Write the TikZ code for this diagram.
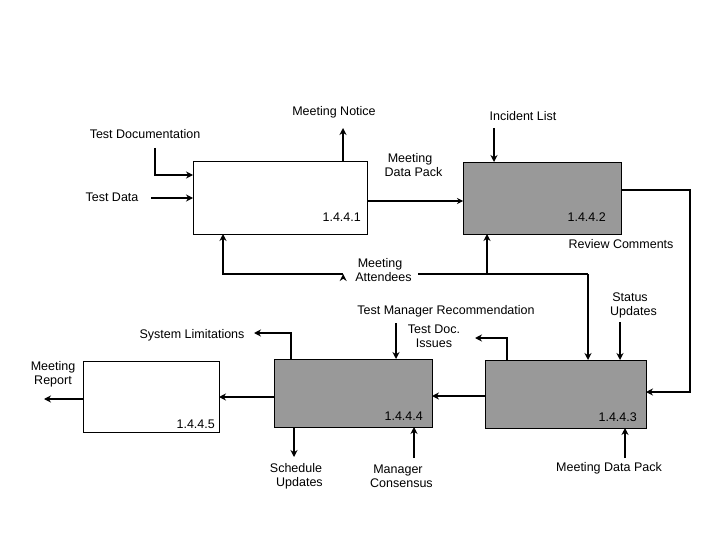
\documentclass[tikz,border=0pt]{standalone}
\usepackage{fontspec}
\setmainfont{Liberation Sans}
\usetikzlibrary{arrows.meta}
\begin{document}
\begin{tikzpicture}[x=1pt,y=-1pt,
  every node/.style={font=\fontsize{12.5}{14}\selectfont,inner sep=0pt,align=center},
  box/.style={draw,line width=0.8pt,fill=white},
  hbox/.style={draw,line width=0.8pt,fill=black!40},
  fl/.style={line width=2.6pt,-{Stealth[length=7pt,width=7pt]}},
  ln/.style={line width=2.6pt},
  lbl/.style={}]
\useasboundingbox (0,0) rectangle (720,540);
% boxes
\draw[box] (193,161) rectangle (367,234); \coordinate (b1) at (193,161);
\node[anchor=south east] (n1) at (361,222) {1.4.4.1};
\draw[hbox] (463,162) rectangle (621,234);
\node[anchor=south east] (n2) at (606,222) {1.4.4.2};
\draw[hbox] (485,360) rectangle (646,428);
\node[anchor=south east] (n3) at (637,422) {1.4.4.3};
\draw[hbox] (274,359) rectangle (432,427);
\node[anchor=south east] (n4) at (423,421) {1.4.4.4};
\draw[box] (83,361) rectangle (219,432);
\node[anchor=south east] (n5) at (215,429) {1.4.4.5};
% labels
\node (tdoc) at (145,134) {Test Documentation};
\node (tdat) at (112,197) {Test Data};
\node (mn) at (334,112) {Meeting Notice};
\node (il) at (523,116) {Incident List};
\node (mdp) at (410,165) {Meeting\\\ \ Data Pack};
\node (rc) at (621,244) {Review Comments};
\node (ma) at (380,270) {Meeting\\\ \ Attendees};
\node (tmr) at (446,311) {Test Manager Recommendation};
\node (tdi) at (434,336) {Test Doc.\\Issues};
\node (su) at (630,305) {Status\\\ \ Updates};
\node (sl) at (192,335) {System Limitations};
\node (mr) at (53,374) {Meeting\\Report};
\node (sch) at (296,476) {Schedule\\\ \ Updates};
\node (mc) at (398,476) {Manager\\\ \ Consensus};
\node (mdp2) at (609,468) {Meeting Data Pack};
% connectors box1
\draw[fl] (155,148) -- (155,175) -- (193,175);
\draw[fl] (151,198) -- (193,198);
\draw[fl] (343,161) -- (343,128);
\draw[line width=2pt,-{Stealth[length=6pt,width=6pt]}] (367,201) -- (463,201);
\draw[fl] (494,128) -- (494,162);
\draw[fl] (621,190) -- (690,190) -- (690,392) -- (646,392);
\draw[fl] (ma.west |- 0,274) ++(-5,0) coordinate (mal);
\draw[fl] (343,274) -- (223,274) -- (223,234);
\draw[ln] (418,274) -- (588,274);
\draw[fl] (487,274) -- (487,234);
\draw[fl] (588,274) -- (588,360);
\draw[fl] (620,322) -- (620,360);
\draw[fl] (625,458) -- (625,428);
\draw[fl] (507,360) -- (507,338) -- (475,338);
\draw[fl] (485,396) -- (432,396);
\draw[fl] (396,323) -- (396,359);
\draw[fl] (291,359) -- (291,333) -- (254,333);
\draw[fl] (274,397) -- (219,397);
\draw[fl] (294,427) -- (294,457);
\draw[fl] (414,458) -- (414,427);
\draw[fl] (83,399) -- (44,399);
\end{tikzpicture}
\end{document}
